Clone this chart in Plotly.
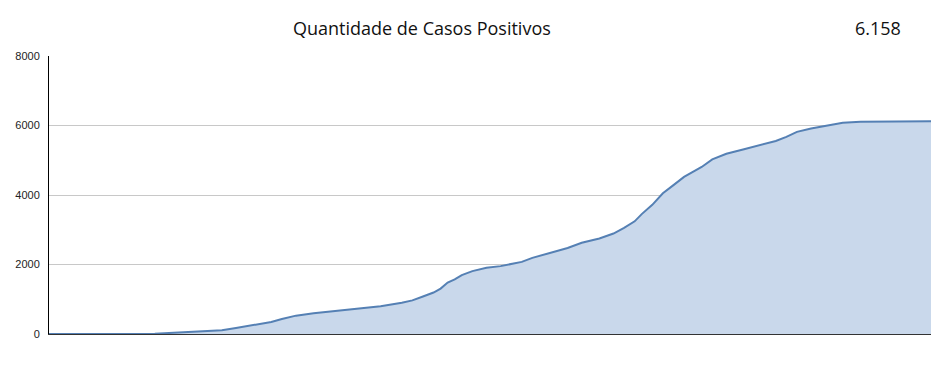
import plotly.graph_objects as go

# Day index (0..250 spans the full x-axis) and cumulative positive cases
days = [0, 26, 30, 34, 39, 44, 49, 53, 58, 63, 66, 70, 75, 80, 85, 89, 94, 100,
        103, 106, 109, 111, 113, 115, 117, 120, 124, 128, 132, 134, 137, 142, 147,
        151, 156, 160, 163, 166, 168, 171, 174, 177, 180, 183, 185, 188, 192, 197,
        202, 206, 209, 212, 216, 221, 225, 230, 235, 241, 250]
cases = [0, 0, 10, 30, 48, 67, 106, 173, 250, 346, 430, 528, 596, 654, 700, 740,
         798, 900, 967, 1081, 1194, 1308, 1479, 1573, 1697, 1810, 1905, 1953, 2028,
         2076, 2190, 2341, 2474, 2626, 2749, 2891, 3052, 3242, 3450, 3716, 4048,
         4285, 4522, 4693, 4806, 5024, 5188, 5314, 5440, 5556, 5672, 5816, 5913,
         6010, 6077, 6106, 6116, 6120, 6125]

title_text = "Quantidade de Casos Positivos"
total_text = "6.158"
y_ticks = [0, 2000, 4000, 6000, 8000]

fig = go.Figure()
fig.add_trace(go.Scatter(
    x=days, y=cases, mode="lines", fill="tozeroy",
    line=dict(color="#5580b4", width=2),
    fillcolor="#c9d8eb",
    hoverinfo="skip",
))

fig.update_layout(
    width=950, height=371,
    margin=dict(l=49, r=19, t=56, b=37),
    paper_bgcolor="white", plot_bgcolor="white",
    showlegend=False,
    xaxis=dict(range=[0, 250], showticklabels=False, showgrid=False, zeroline=False,
               showline=True, linecolor="#333333", linewidth=1, ticks=""),
    yaxis=dict(range=[0, 8000], tickvals=y_ticks, ticktext=[str(v) for v in y_ticks],
               showgrid=True, gridcolor="#c8c8c8", gridwidth=1, zeroline=False,
               showline=True, linecolor="#000000", linewidth=1, ticks="",
               ticklabelstandoff=6,
               tickfont=dict(family="Liberation Sans, Arial, sans-serif", size=11, color="#222222")),
    annotations=[
        dict(text=title_text, x=422, y=28, xref="paper", yref="paper", showarrow=False,
             font=dict(family="Open Sans, sans-serif", size=18, color="#111111")),
        dict(text=total_text, x=878, y=28, xref="paper", yref="paper", showarrow=False,
             font=dict(family="Open Sans, sans-serif", size=18, color="#111111")),
    ],
)

# Place annotations in pixel space using paper coordinates
plot_w = 950 - 49 - 19
plot_h = 371 - 56 - 37
for ann in fig.layout.annotations:
    px, py = ann.x, ann.y
    ann.x = (px - 49) / plot_w
    ann.y = (371 - 37 - py) / plot_h
    ann.xanchor = "center"
    ann.yanchor = "middle"

fig.write_html("out.html")
